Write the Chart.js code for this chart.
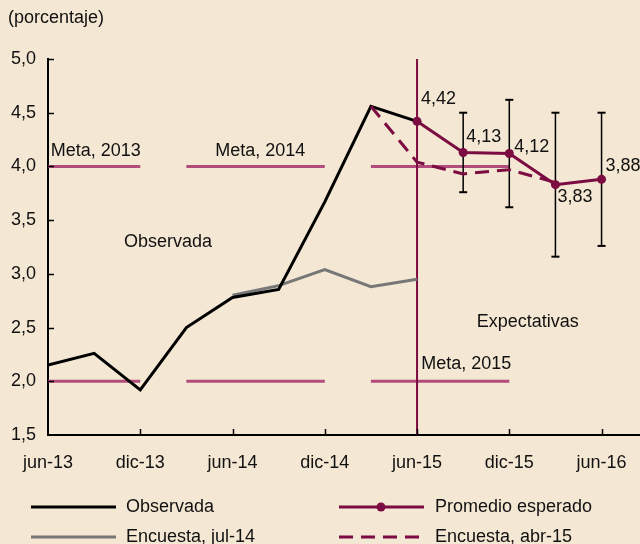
<!DOCTYPE html>
<html>
<head>
<meta charset="utf-8">
<script src="https://cdn.jsdelivr.net/npm/chart.js@4/dist/chart.umd.min.js"></script>
<style>
  body { margin: 0; background: #f4e7d3; }
  canvas { display: block; }
</style>
</head>
<body>
<canvas id="chart" width="640" height="544"></canvas>
<script>
// x values are months counted from jun-13 (0 = jun-13)
const tickMonths = [0, 6, 12, 18, 24, 30, 36];
const tickLabels = ["jun-13", "dic-13", "jun-14", "dic-14", "jun-15", "dic-15", "jun-16"];
const yTicks = [1.5, 2.0, 2.5, 3.0, 3.5, 4.0, 4.5, 5.0];

const obsMonths = [0, 3, 6, 9, 12, 15, 18, 21, 24];
const obsValues = [2.15, 2.26, 1.92, 2.50, 2.78, 2.855, 3.67, 4.56, 4.42];

const jul14Months = [12, 15, 18, 21, 24];
const jul14Values = [2.80, 2.89, 3.04, 2.88, 2.95];

const abr15Months = [21, 24, 27, 30, 33];
const abr15Values = [4.56, 4.04, 3.93, 3.97, 3.85];

const promMonths = [24, 27, 30, 33, 36];
const promValues = [4.42, 4.13, 4.12, 3.83, 3.88];
const promLabels = ["4,42", "4,13", "4,12", "3,83", "3,88"];

const barMonths = [27, 30, 33, 36];
const barLow  = [3.76, 3.62, 3.16, 3.26];
const barHigh = [4.50, 4.62, 4.50, 4.50];

// target band (2% - 4%) per year
const metaNames = ["Meta, 2013", "Meta, 2014", "Meta, 2015"];
const metaStart = [0, 9, 21];
const metaEnd   = [6, 18, 30];
const metaLow = 2.0;
const metaHigh = 4.0;

const cutMonth = 24;

const MAROON = "#7b0b41";
const PINK = "#b24c7b";
const GRAY = "#777777";
const FONT = "Liberation Sans";

const pts = (xs, ys) => xs.map((x, i) => ({ x: x, y: ys[i] }));

let metaData = [];
metaStart.forEach((s, i) => {
  metaData.push({ x: s, y: metaHigh }, { x: metaEnd[i], y: metaHigh }, { x: metaEnd[i], y: null });
  metaData.push({ x: s, y: metaLow }, { x: metaEnd[i], y: metaLow }, { x: metaEnd[i], y: null });
});

let barData = [];
barMonths.forEach((m, i) => {
  barData.push({ x: m, y: barLow[i] }, { x: m, y: barHigh[i] }, { x: m, y: null });
});

// text placed in data units
const notes = [
  { text: "Observada", x: 7.8, y: 3.30, align: "center" },
  { text: "Expectativas", x: 31.2, y: 2.55, align: "center" },
  { text: metaNames[0], x: 3.1, y: 4.14, align: "center" },
  { text: metaNames[1], x: 13.8, y: 4.14, align: "center" },
  { text: metaNames[2], x: 27.2, y: 2.165, align: "center" },
];
// pixel offsets of value labels from their points
const labelOffsets = [[4, -22], [3, -15], [5, -7], [2, 12], [4, -13]];

const legendItems = [
  { text: "Observada", color: "#000", dash: [], dot: false, col: 0, row: 0 },
  { text: "Encuesta, jul-14", color: GRAY, dash: [], dot: false, col: 0, row: 1 },
  { text: "Promedio esperado", color: MAROON, dash: [], dot: true, col: 1, row: 0 },
  { text: "Encuesta, abr-15", color: MAROON, dash: [14, 8], dot: false, col: 1, row: 1 },
];

const extras = {
  id: "extras",
  afterDraw(chart) {
    const ctx = chart.ctx;
    const xs = chart.scales.x, ys = chart.scales.y;
    ctx.save();
    // inward tick marks
    ctx.strokeStyle = "#000";
    ctx.lineWidth = 1.5;
    tickMonths.forEach(m => {
      if (m === 0) return;
      const px = Math.round(xs.getPixelForValue(m)) + 0.5;
      ctx.beginPath();
      ctx.moveTo(px, ys.bottom);
      ctx.lineTo(px, ys.bottom - 6);
      ctx.stroke();
    });
    yTicks.forEach(v => {
      if (v === 1.5) return;
      const py = Math.round(ys.getPixelForValue(v)) + 0.5;
      ctx.beginPath();
      ctx.moveTo(xs.left, py);
      ctx.lineTo(xs.left + 6, py);
      ctx.stroke();
    });

    ctx.fillStyle = "#111";
    ctx.font = "18px '" + FONT + "'";
    ctx.textBaseline = "middle";

    ctx.textAlign = "left";
    ctx.fillText("(porcentaje)", 8, 18);

    notes.forEach(n => {
      ctx.textAlign = n.align;
      ctx.fillText(n.text, xs.getPixelForValue(n.x), ys.getPixelForValue(n.y));
    });

    const meta = chart.getDatasetMeta(0);
    ctx.textAlign = "left";
    meta.data.forEach((p, i) => {
      ctx.fillText(promLabels[i], p.x + labelOffsets[i][0], p.y + labelOffsets[i][1]);
    });

    // legend
    const colX = [31, 339];
    const rowY = [507, 537];
    legendItems.forEach(it => {
      const x0 = colX[it.col], y0 = rowY[it.row];
      ctx.strokeStyle = it.color;
      ctx.lineWidth = 3;
      ctx.setLineDash(it.dash);
      ctx.beginPath();
      ctx.moveTo(x0, y0);
      ctx.lineTo(x0 + 85, y0);
      ctx.stroke();
      ctx.setLineDash([]);
      if (it.dot) {
        ctx.fillStyle = it.color;
        ctx.beginPath();
        ctx.arc(x0 + 42, y0, 4.5, 0, Math.PI * 2);
        ctx.fill();
      }
      ctx.fillStyle = "#111";
      ctx.fillText(it.text, x0 + (it.col ? 96 : 95), y0);
    });
    ctx.restore();
  }
};

new Chart(document.getElementById("chart").getContext("2d"), {
  type: "line",
  data: {
    datasets: [
      {
        label: "Promedio esperado",
        data: pts(promMonths, promValues),
        borderColor: MAROON, backgroundColor: MAROON,
        borderWidth: 3, pointRadius: 4.5, pointBorderWidth: 0,
        order: 0
      },
      {
        label: "Encuesta, abr-15",
        data: pts(abr15Months, abr15Values),
        borderColor: MAROON, borderWidth: 3, borderDash: [14, 8],
        pointRadius: 0, order: 1
      },
      {
        label: "bandas",
        data: barData,
        borderColor: "#000", backgroundColor: "#000",
        borderWidth: 1.5, pointStyle: "line", pointRadius: 4,
        pointBorderWidth: 2, pointBorderColor: "#000",
        order: 2
      },
      {
        label: "Observada",
        data: pts(obsMonths, obsValues),
        borderColor: "#000", borderWidth: 3, pointRadius: 0,
        order: 3
      },
      {
        label: "Encuesta, jul-14",
        data: pts(jul14Months, jul14Values),
        borderColor: GRAY, borderWidth: 3, pointRadius: 0,
        order: 4
      },
      {
        label: "corte",
        data: [{ x: cutMonth, y: yTicks[0] }, { x: cutMonth, y: yTicks[yTicks.length - 1] }],
        borderColor: MAROON, borderWidth: 2, pointRadius: 0,
        order: 5
      },
      {
        label: "Meta",
        data: metaData,
        borderColor: PINK, borderWidth: 3, pointRadius: 0,
        spanGaps: false, order: 6
      }
    ]
  },
  options: {
    responsive: false,
    animation: false,
    devicePixelRatio: 1,
    layout: { autoPadding: false, padding: { top: 59, right: 0, left: 0, bottom: 0 } },
    plugins: { legend: { display: false }, tooltip: { enabled: false } },
    scales: {
      x: {
        type: "linear",
        min: 0, max: 38.5,
        afterFit: s => { s.height = 109; s.paddingLeft = 0; s.paddingRight = 0; },
        afterBuildTicks: s => { s.ticks = tickMonths.map(v => ({ value: v })); },
        grid: { display: false, drawTicks: false },
        border: { display: true, color: "#000", width: 2 },
        ticks: {
          padding: 17,
          color: "#111",
          font: { family: FONT, size: 18 },
          maxRotation: 0,
          callback: v => tickLabels[tickMonths.indexOf(v)]
        }
      },
      y: {
        min: 1.5, max: 5.0,
        afterFit: s => { s.width = 48; },
        afterBuildTicks: s => { s.ticks = yTicks.map(v => ({ value: v })); },
        grid: { display: false, drawTicks: false },
        border: { display: true, color: "#000", width: 2 },
        ticks: {
          padding: 12,
          color: "#111",
          font: { family: FONT, size: 18 },
          callback: v => v.toFixed(1).replace(".", ",")
        }
      }
    }
  },
  plugins: [extras]
});
</script>
</body>
</html>
